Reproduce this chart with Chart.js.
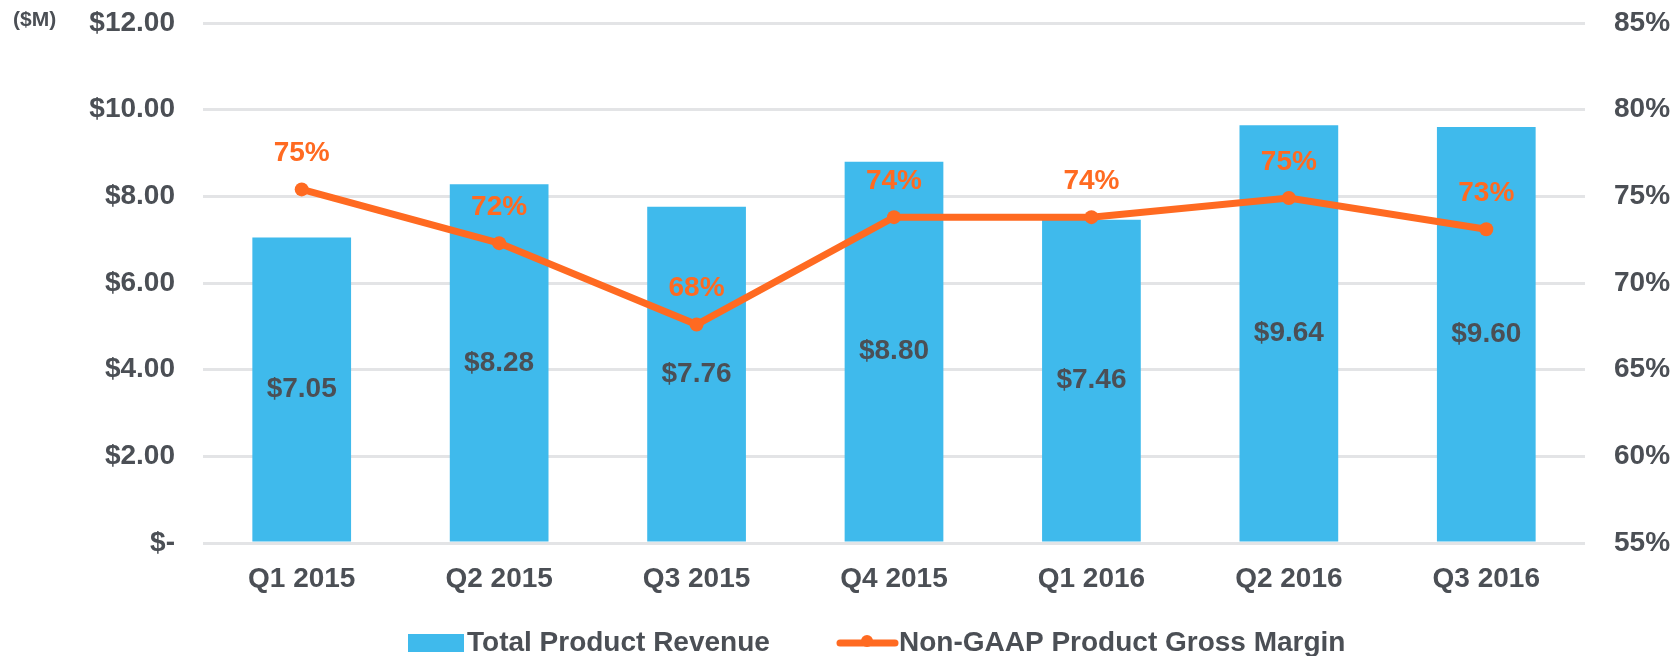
<!DOCTYPE html>
<html>
<head>
<meta charset="utf-8">
<script src="https://cdn.jsdelivr.net/npm/chart.js@4.4.1/dist/chart.umd.min.js"></script>
<style>
  html, body { margin: 0; padding: 0; background: #fff; }
  #wrap { width: 1678px; height: 656px; }
</style>
</head>
<body>
<div id="wrap"><canvas id="chart"></canvas></div>
<script>
// data
const quarters = ['Q1 2015', 'Q2 2015', 'Q3 2015', 'Q4 2015', 'Q1 2016', 'Q2 2016', 'Q3 2016'];
const revenue = [7.05, 8.28, 7.76, 8.80, 7.46, 9.64, 9.60];
const grossMargin = [75.4, 72.3, 67.6, 73.8, 73.8, 74.9, 73.1];
const seriesNames = ['Total Product Revenue', 'Non-GAAP Product Gross Margin'];

const blue = '#3fbaec';
const orange = '#ff6a21';
const textGray = '#4b4f55';
const gridGray = '#e3e4e6';
const FONT = "'Liberation Sans', Arial, sans-serif";

const dataLabels = {
    id: 'dataLabels',
    afterDatasetsDraw(chart) {
        const ctx = chart.ctx;
        ctx.save();
        ctx.textAlign = 'center';
        ctx.textBaseline = 'middle';
        ctx.font = 'bold 28px ' + FONT;
        const bars = chart.getDatasetMeta(0);
        bars.data.forEach(function(el, i) {
            ctx.fillStyle = textGray;
            ctx.fillText('$' + revenue[i].toFixed(2), el.x, (el.y + el.base) / 2);
        });
        const line = chart.getDatasetMeta(1);
        line.data.forEach(function(el, i) {
            ctx.fillStyle = orange;
            ctx.fillText(Math.round(grossMargin[i]) + '%', el.x, el.y - 36);
        });
        ctx.restore();
    }
};

const extras = {
    id: 'extras',
    afterDraw(chart) {
        const ctx = chart.ctx;
        ctx.save();
        // units label
        ctx.fillStyle = textGray;
        ctx.font = 'bold 21px ' + FONT;
        ctx.textBaseline = 'middle';
        ctx.textAlign = 'left';
        ctx.fillText('($M)', 13, 20);

        // legend
        const ly = 643;
        ctx.font = 'bold 28px ' + FONT;
        ctx.fillStyle = blue;
        ctx.fillRect(408, ly - 9, 56, 18);
        ctx.fillStyle = textGray;
        ctx.fillText(seriesNames[0], 467, ly);

        ctx.strokeStyle = orange;
        ctx.lineWidth = 7;
        ctx.lineCap = 'round';
        ctx.beginPath();
        ctx.moveTo(840, ly);
        ctx.lineTo(895, ly);
        ctx.stroke();
        ctx.fillStyle = orange;
        ctx.beginPath();
        ctx.arc(867, ly - 2, 6, 0, Math.PI * 2);
        ctx.fill();
        ctx.fillStyle = textGray;
        ctx.fillText(seriesNames[1], 899, ly);
        ctx.restore();
    }
};

// fixed axis sizes so the plot area sits where it does in the source
function fixSide(width) {
    return function(scale) {
        scale.width = width;
        scale.paddingTop = 0;
        scale.paddingBottom = 0;
    };
}

new Chart(document.getElementById('chart'), {
    type: 'bar',
    data: {
        labels: quarters,
        datasets: [
            {
                label: seriesNames[0],
                data: revenue,
                backgroundColor: blue,
                borderWidth: 0,
                yAxisID: 'y',
                barPercentage: 1,
                categoryPercentage: 0.5,
                order: 1
            },
            {
                type: 'line',
                label: seriesNames[1],
                data: grossMargin,
                borderColor: orange,
                backgroundColor: orange,
                borderWidth: 7,
                pointRadius: 7,
                pointHoverRadius: 7,
                pointBackgroundColor: orange,
                pointBorderWidth: 0,
                tension: 0,
                yAxisID: 'y1',
                order: 0
            }
        ]
    },
    options: {
        responsive: true,
        maintainAspectRatio: false,
        animation: false,
        layout: { padding: { top: 23, left: 0, right: 0, bottom: 0 } },
        plugins: {
            legend: { display: false },
            tooltip: { enabled: false }
        },
        scales: {
            x: {
                grid: { display: false },
                border: { display: false },
                ticks: {
                    color: textGray,
                    padding: 11,
                    font: { family: FONT, size: 28, weight: 'bold' }
                },
                afterFit: function(scale) {
                    scale.height = 113;
                    scale.paddingLeft = 0;
                    scale.paddingRight = 0;
                }
            },
            y: {
                position: 'left',
                min: 0,
                max: 12,
                grid: { color: gridGray, lineWidth: 3, drawTicks: false },
                border: { display: false },
                ticks: {
                    stepSize: 2,
                    padding: 28,
                    color: textGray,
                    font: { family: FONT, size: 28, weight: 'bold' },
                    callback: function(value) {
                        return value === 0 ? '$-' : '$' + value.toFixed(2);
                    }
                },
                afterFit: fixSide(203)
            },
            y1: {
                position: 'right',
                min: 55,
                max: 85,
                grid: { display: false },
                border: { display: false },
                ticks: {
                    stepSize: 5,
                    padding: 21,
                    color: textGray,
                    font: { family: FONT, size: 28, weight: 'bold' },
                    callback: function(value) { return value + '%'; }
                },
                afterFit: fixSide(93)
            }
        }
    },
    plugins: [dataLabels, extras]
});
</script>
</body>
</html>
